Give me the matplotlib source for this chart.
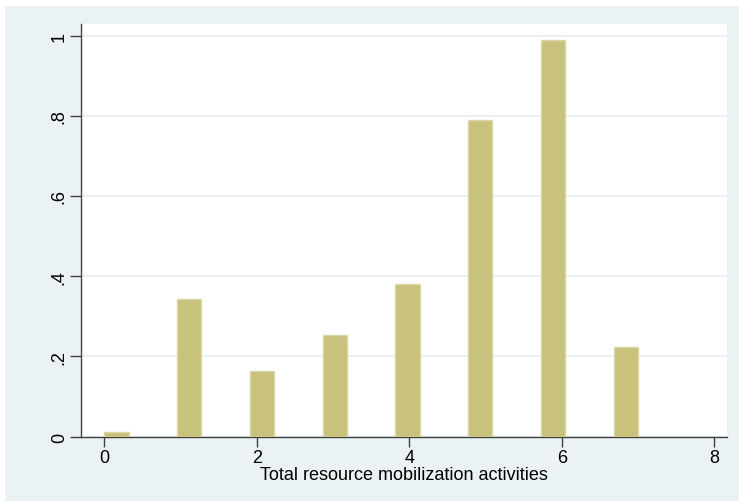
import numpy as np
import matplotlib
matplotlib.use("Agg")
import matplotlib.pyplot as plt
from matplotlib.patches import Rectangle

plt.rcParams['font.family'] = ['Liberation Sans', 'DejaVu Sans']

# number of activities and histogram density per value
activities = np.array([0, 1, 2, 3, 4, 5, 6, 7])
density = [0.012, 0.343, 0.163, 0.254, 0.380, 0.790, 0.989, 0.224]
x_ticks = [0, 2, 4, 6, 8]
y_ticks = [0, 0.2, 0.4, 0.6, 0.8, 1.0]
y_tick_labels = ["0", ".2", ".4", ".6", ".8", "1"]

# stata-style binning: 22 bins over 0..7
n_bins = 22
lo, hi = 0, 7
bin_w = (hi - lo) / n_bins
bin_idx = np.minimum(np.floor((activities - lo) / bin_w), n_bins - 1)
bin_left = lo + bin_idx * bin_w

W, H = 739, 502
fig = plt.figure(figsize=(W / 100, H / 100), dpi=100)
fig.patch.set_facecolor("white")
fig.patches.append(Rectangle((5 / W, 0), 1, 1 - 7 / H, transform=fig.transFigure,
                             facecolor="#EAF2F3", edgecolor="none", zorder=-10))

ax = fig.add_axes([81 / W, (H - 437.7) / H, (726.7 - 81) / W, (437.7 - 25.3) / H])
ax.set_facecolor("white")

ax.bar(bin_left, density, width=bin_w, align="edge", color="#C9C27D",
       edgecolor="#DCD7A6", linewidth=1.0, zorder=3)

ax.set_xlim(-0.306, 8.163)
ax.set_ylim(0, 1.028)
ax.set_xticks(x_ticks)
ax.set_xticklabels([str(t) for t in x_ticks], fontsize=13)
ax.set_yticks(y_ticks)
ax.set_yticklabels(y_tick_labels, fontsize=13, rotation=90, va="center")

ax.yaxis.grid(True, color="#E6EEF1", linewidth=1.2, zorder=0)
ax.xaxis.grid(False)
ax.set_axisbelow(True)

for side in ("top", "right"):
    ax.spines[side].set_visible(False)
for side in ("left", "bottom"):
    ax.spines[side].set_color("#404040")
    ax.spines[side].set_linewidth(1.0)
ax.tick_params(axis="x", direction="out", length=7, width=1, color="#404040", pad=2)
ax.tick_params(axis="y", direction="out", length=8, width=1, color="#404040", pad=1.5)

ax.set_xlabel("Total resource mobilization activities", fontsize=13, labelpad=0)

fig.savefig("out.png", dpi=100)
